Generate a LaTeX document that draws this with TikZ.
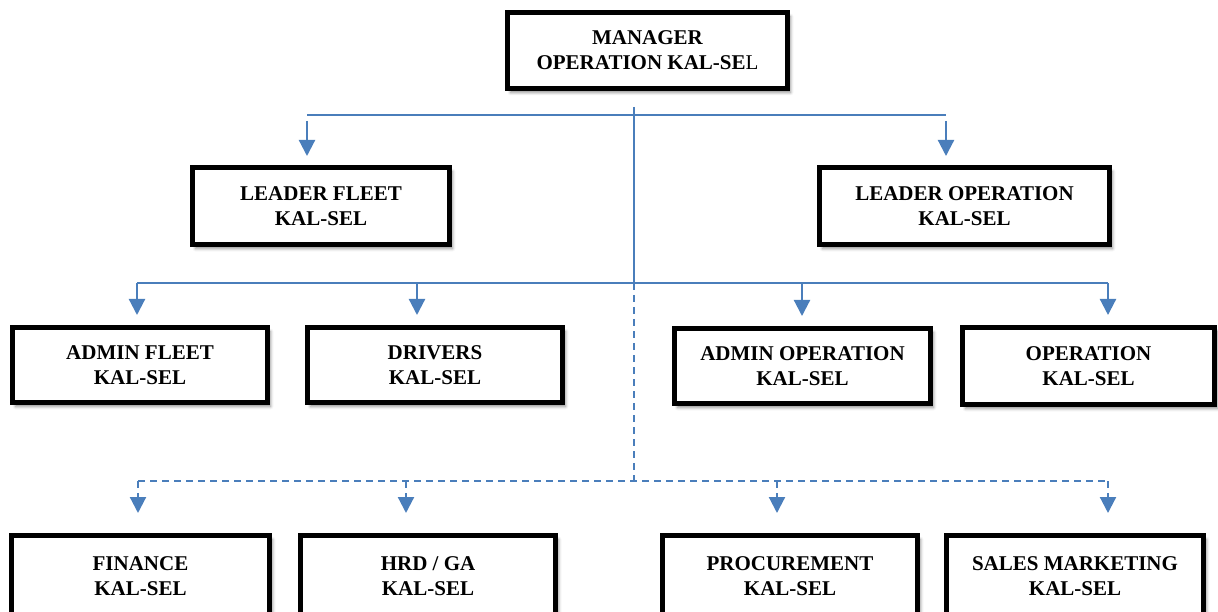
\documentclass[tikz,border=0pt]{standalone}
\usepackage{fontspec}
\setmainfont{Liberation Serif}
\usetikzlibrary{arrows.meta,shadows.blur}
\definecolor{lineblue}{RGB}{74,126,187}

\begin{document}
\begin{tikzpicture}
	[x=1pt,y=-1pt,
	unit/.style={draw=black,line width=5pt,fill=white,align=center,inner sep=0pt,
		minimum height=76pt,font=\bfseries\fontsize{21}{25}\selectfont,
		blur shadow={shadow xshift=3pt,shadow yshift=-4pt,shadow blur radius=3pt,shadow opacity=45}},
	bus/.style={line width=2.2pt,lineblue},
	busdash/.style={bus,dash pattern=on 7pt off 5pt},
	link/.style={bus,-{Triangle[width=16pt,length=16pt]}},
	linkdash/.style={link,dash pattern=on 7pt off 5pt}]
	\useasboundingbox (0,0) rectangle (1218,612);
	% boxes
	\node[unit,minimum width=280pt] (mgr) at (647.5,50.5) {MANAGER\\OPERATION KAL-SE{\mdseries L}};
	\node[unit,minimum width=257pt,minimum height=77pt] (lfleet) at (321,206) {LEADER FLEET\\KAL-SEL};
	\node[unit,minimum width=290pt,minimum height=77pt] (lop) at (964.5,206) {LEADER OPERATION\\KAL-SEL};
	\node[unit,minimum width=255pt,minimum height=75pt] (afleet) at (140,365) {ADMIN FLEET\\KAL-SEL};
	\node[unit,minimum width=255pt,minimum height=75pt] (drv) at (435,365) {DRIVERS\\KAL-SEL};
	\node[unit,minimum width=256pt,minimum height=75pt] (aop) at (802.5,366) {ADMIN OPERATION\\KAL-SEL};
	\node[unit,minimum width=252pt,minimum height=77pt] (op) at (1088.5,366) {OPERATION\\KAL-SEL};
	% bottom row runs past the lower edge
	\node[unit,minimum width=258pt,minimum height=81pt] (fin) at (140.5,576) {FINANCE\\KAL-SEL};
	\node[unit,minimum width=255pt,minimum height=81pt] (hrd) at (428,576) {HRD / GA\\KAL-SEL};
	\node[unit,minimum width=255pt,minimum height=81pt] (proc) at (790,576) {PROCUREMENT\\KAL-SEL};
	\node[unit,minimum width=257pt,minimum height=81pt] (sales) at (1075,576) {SALES MARKETING\\KAL-SEL};
	% trunk
	\coordinate (top) at (634,107);
	\coordinate (mid) at (634,283);
	\coordinate (low) at (634,481);
	\draw[bus] (top) -- (mid);
	\draw[busdash] (mid) -- (low);
	% first level
	\coordinate (l1) at (307,115);
	\coordinate (r1) at (946,115);
	\draw[bus] (l1) -- (r1);
	\draw[link,shorten <=6pt,shorten >=9pt] (l1) -- (l1 |- lfleet.north);
	\draw[link,shorten <=6pt,shorten >=9pt] (r1) -- (r1 |- lop.north);
	% second level
	\coordinate (s-afleet) at (137,283);
	\coordinate (s-drv) at (417,283);
	\coordinate (s-aop) at (802,283);
	\coordinate (s-op) at (1108,283);
	\draw[bus] (s-afleet) -- (s-op);
	\foreach \n in {afleet,drv,aop,op}
		\draw[link,shorten >=10pt] (s-\n) -- (s-\n |- \n.north);
	% support, dashed
	\coordinate (s-fin) at (138,481);
	\coordinate (s-hrd) at (406,481);
	\coordinate (s-proc) at (777,481);
	\coordinate (s-sales) at (1108,481);
	\draw[busdash] (s-fin) -- (s-sales);
	\foreach \n in {fin,hrd,proc,sales}
		\draw[linkdash,shorten >=20pt] (s-\n) -- (s-\n |- \n.north);
\end{tikzpicture}
\end{document}
